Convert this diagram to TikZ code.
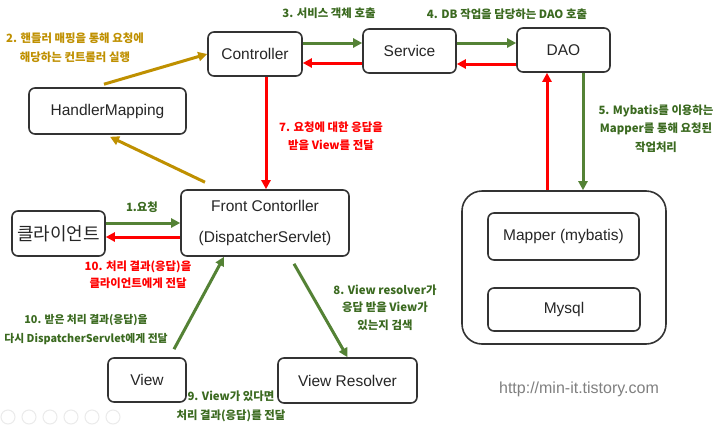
\documentclass[tikz,border=0pt]{standalone}
\usepackage{fontspec}
\setmainfont{Liberation Sans}
\newfontfamily\kr{Noto Sans CJK KR}
\usetikzlibrary{arrows.meta,calc}
\definecolor{ag}{HTML}{548235}
\definecolor{ar}{HTML}{FF0000}
\definecolor{ao}{HTML}{BF9000}
\definecolor{lg}{HTML}{3B6A20}
\definecolor{bd}{HTML}{333333}
\tikzset{
  box/.style={draw=bd, line width=1.6pt, rounded corners=6pt, fill=white, inner sep=0pt, text=black!85,
    font=\fontsize{15.5}{19}\selectfont},
  garrow/.style={draw=ag, line width=3pt, -{Triangle[length=9pt,width=9pt]}},
  rarrow/.style={draw=ar, line width=3pt, -{Triangle[length=9pt,width=9pt]}},
  oarrow/.style={draw=ao, line width=3pt, -{Triangle[length=9pt,width=9pt]}},
  lab/.style={font=\kr\bfseries\fontsize{11.4}{18.5}\selectfont, align=center, inner sep=0pt},
}
\begin{document}
\begin{tikzpicture}[x=1pt,y=-1pt]
\path[use as bounding box, fill=white] (0,0) rectangle (720,426);

% boxes
\node[box, minimum width=94pt, minimum height=44pt] (ctrl) at (255,54) {Controller};
\node[box, minimum width=93pt, minimum height=44pt] (svc) at (409.5,51) {Service};
\node[box, minimum width=93pt, minimum height=44pt] (dao) at (563.5,50) {DAO};
\node[box, minimum width=157pt, minimum height=46pt] (hm) at (107.5,111) {HandlerMapping};
\node[box, minimum width=93pt, minimum height=45pt, font=\kr\fontsize{18}{21}\selectfont] (cli) at (58.5,233.5) {클라이언트};
\node[box, minimum width=168pt, minimum height=66pt, align=center, font=\fontsize{15.5}{31}\selectfont] (fc) at (265,223) {Front Contorller\\(DispatcherServlet)};
\node[box, rounded corners=20pt, minimum width=204pt, minimum height=153pt] (db) at (564,267.5) {};
\node[box, minimum width=151pt, minimum height=47pt] (mp) at (563.5,236.5) {Mapper (mybatis)};
\node[box, minimum width=152pt, minimum height=43pt] (ms) at (564,309.5) {Mysql};
\node[box, minimum width=78pt, minimum height=44pt] (vw) at (147,380) {View};
\node[box, minimum width=139pt, minimum height=45pt] (vr) at (347.5,380.5) {View Resolver};

% connectors
\draw[garrow] (ctrl.east |- 0,43) -- (svc.west |- 0,43);
\draw[rarrow] (svc.west |- 0,63) -- (ctrl.east |- 0,63);
\draw[garrow] (svc.east |- 0,43) -- (dao.west |- 0,43);
\draw[rarrow] (dao.west |- 0,64) -- (svc.east |- 0,64);
\draw[garrow] (dao.south -| 583,0) -- (db.north -| 583,0);
\draw[rarrow] (db.north -| 547,0) -- (dao.south -| 547,0);
\draw[rarrow] (ctrl.south -| 266,0) -- (fc.north -| 266,0);
\draw[oarrow] ($(hm.north -| 104,0)+(0,-3)$) -- (ctrl.west);
\draw[oarrow] ($(fc.north -| 205,0)+(0,-7)$) -- ($(hm.south -| 110,0)+(0,2)$);
\draw[garrow] (cli.east |- 0,223) -- (fc.west |- 0,223);
\draw[rarrow] (fc.west |- 0,237) -- (cli.east |- 0,237);
\draw[garrow] ($(vw.north -| 174,0)+(0,-8)$) -- (fc.south -| 224,0);
\draw[garrow] ($(fc.south -| 294,0)+(0,7)$) -- (vr.north);

% labels
\node[lab, text=ao] (l2) at (75,47.5) {2. 핸들러 매핑을 통해 요청에\\해당하는 컨트롤러 실행};
\node[lab, text=lg] (l3) at (329,13) {3. 서비스 객체 호출};
\node[lab, text=lg] (l4) at (507,14) {4. DB 작업을 담당하는 DAO 호출};
\node[lab, text=lg] (l5) at (656,128.5) {5. Mybatis를 이용하는\\Mapper를 통해 요청된\\작업처리};
\node[lab, text=ar] (l7) at (331,136) {7. 요청에 대한 응답을\\받을 View를 전달};
\node[lab, text=lg] (l1) at (142,207) {1.요청};
\node[lab, text=ar, font=\kr\bfseries\fontsize{11.4}{17}\selectfont] (l10a) at (138,274.5) {10. 처리 결과(응답)을\\클라이언트에게 전달};
\node[lab, text=lg, font=\kr\bfseries\fontsize{11.4}{17.5}\selectfont] (l8) at (385,307.5) {8. View resolver가\\응답 받을 View가\\있는지 검색};
\node[lab, text=lg, font=\kr\bfseries\fontsize{10.8}{19}\selectfont] (l10b) at (86,329.5) {10. 받은 처리 결과(응답)을\\다시 DispatcherServlet에게 전달};
\node[lab, text=lg] (l9) at (231,406.5) {9. View가 있다면\\처리 결과(응답)를 전달};
\node[text=black!50, font=\fontsize{16}{19}\selectfont, inner sep=0pt] (url) at (579,389) {http://min-it.tistory.com};

% faint player controls
\foreach \cx in {8,29,50,71,92,113}
  \draw[black!8, line width=1pt] (\cx,417) circle (7pt);
\end{tikzpicture}
\end{document}
